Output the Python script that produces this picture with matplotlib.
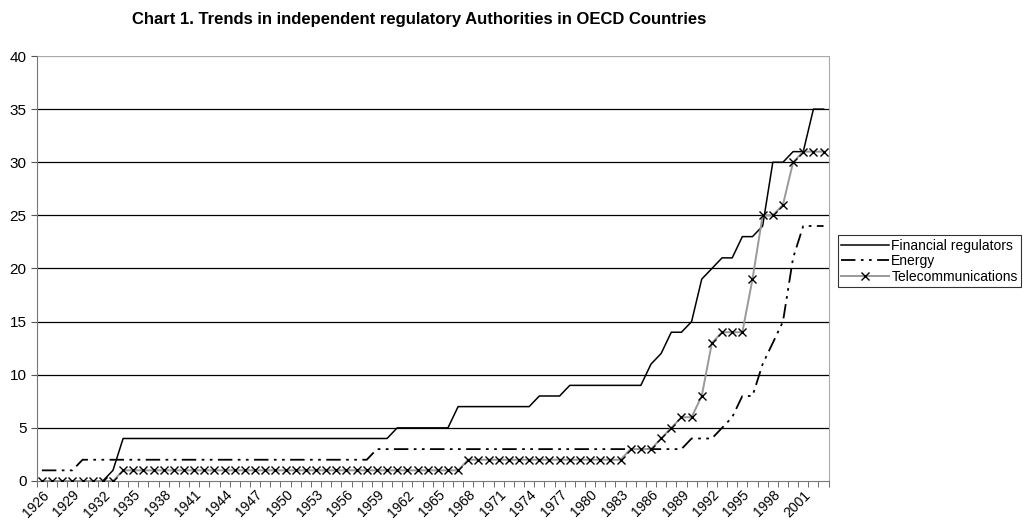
import numpy as np
import matplotlib.pyplot as plt

plt.rcParams['font.family'] = ['Liberation Sans', 'DejaVu Sans']

# Number of independent regulators per year, 1926-2003
years = list(range(1926, 2004))

financial = ([0] * 7 + [1] + [4] * 27 + [5] * 6 + [7] * 8 + [8] * 3 + [9] * 8
             + [11, 12, 14, 14, 15, 19, 20, 21, 21, 23, 23, 24, 30, 30, 31, 31, 35, 35])
energy = ([1] * 4 + [2] * 29 + [3] * 31
          + [4, 4, 4, 5, 6, 8, 8, 11, 13, 15, 21, 24, 24, 24])
telecom = ([0] * 8 + [1] * 34 + [2] * 16 + [3] * 3
           + [4, 5, 6, 6, 8, 13, 14, 14, 14, 19, 25, 25, 26, 30, 31, 31, 31])

x = np.arange(len(years))

fig = plt.figure(figsize=(10.23, 5.21), dpi=100)
ax = fig.add_axes([0.036, 0.0768, 0.774, 0.8157])

for v in range(5, 40, 5):
    ax.axhline(v, color='black', lw=0.9, zorder=1)
ax.axhline(40, color='#aaaaaa', lw=0.9, zorder=1)

ax.plot(x, financial, color='black', lw=1.1, label='Financial regulators', zorder=3)
ax.plot(x, energy, color='black', lw=1.3, dashes=(8, 3, 1.5, 3, 1.5, 3),
        label='Energy', zorder=3)
ax.plot(x, telecom, color='#999999', lw=1.4, marker='x', markersize=6,
        markeredgecolor='black', markeredgewidth=1.0,
        label='Telecommunications', zorder=4)

ax.set_xlim(-0.5, len(years) - 0.5)
ax.set_ylim(0, 40)
ax.set_yticks(range(0, 41, 5))
ax.tick_params(axis='y', labelsize=11, length=4, direction='out', color='#555555')

ax.set_xticks(x[::3])
ax.set_xticklabels([str(y) for y in years[::3]], rotation=45, ha='right',
                   va='top', rotation_mode='anchor', fontsize=10)
ax.set_xticks(np.arange(-0.5, len(years), 1), minor=True)
ax.tick_params(axis='x', which='major', length=0, pad=5)
ax.tick_params(axis='x', which='minor', length=4, direction='out', color='#555555')

ax.spines['top'].set_visible(False)
ax.spines['left'].set_color('#777777')
ax.spines['bottom'].set_color('#777777')
ax.spines['right'].set_color('#aaaaaa')

fig.text(0.41, 0.962, 'Chart 1. Trends in independent regulatory Authorities in OECD Countries',
         ha='center', va='center', fontsize=12, fontweight='bold')

leg = fig.legend(loc='upper left', bbox_to_anchor=(0.819, 0.548), fontsize=10,
                 frameon=True, fancybox=False, handlelength=3.4,
                 borderpad=0.25, labelspacing=0.1, handletextpad=0.2, borderaxespad=0)
leg.get_frame().set_edgecolor('black')
leg.get_frame().set_linewidth(0.8)

fig.savefig('out.png', dpi=100)
